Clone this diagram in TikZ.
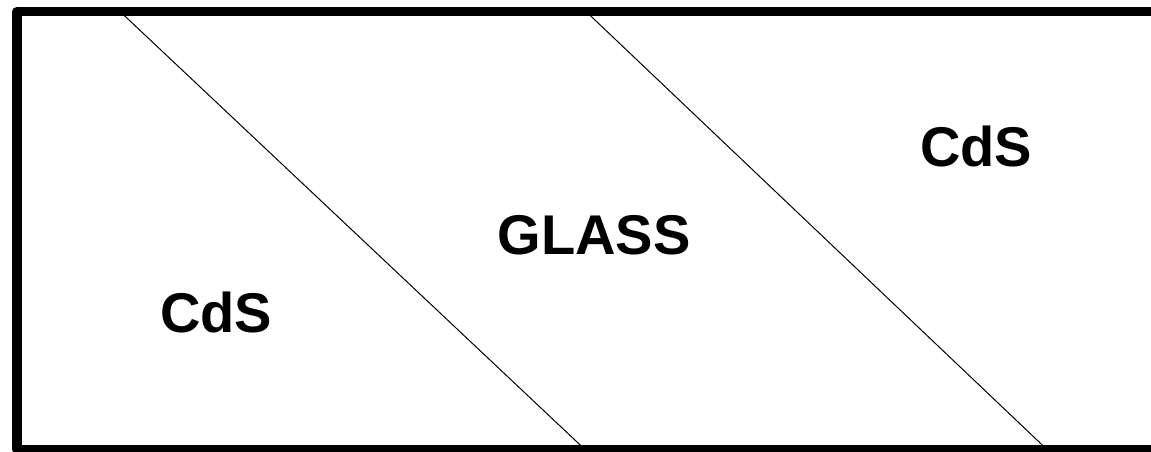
\documentclass[tikz,border=0pt]{standalone}
\usepackage{fontspec}
\setmainfont{Liberation Sans}
\tikzset{
  frame/.style={line width=9.5pt, line join=round, line cap=butt},
  divider/.style={line width=1pt},
  lbl/.style={font=\bfseries\fontsize{56}{60}\selectfont, inner sep=0pt, anchor=base}
}
\begin{document}
\begin{tikzpicture}[x=1pt,y=-1pt]
\useasboundingbox (0,0) rectangle (1151,452);
\fill[white] (0,0) rectangle (1151,452);
% divider end points
\coordinate (a1) at (120,11.5);
\coordinate (a2) at (585,449.5);
\coordinate (b1) at (586,11.5);
\coordinate (b2) at (1047,449.5);
\draw[divider] (a1) -- (a2);
\draw[divider] (b1) -- (b2);
% frame
\coordinate (tr) at (1160,11.5);
\coordinate (tl) at (17,11.5);
\coordinate (bl) at (17,449.5);
\coordinate (br) at (1160,449.5);
\draw[frame] (tr) -- (tl) -- (bl) -- (br);
% labels (placed by baseline)
\node[lbl] (cds1) at (216,332) {CdS};
\node[lbl] (glass) at (594,254) {GLASS};
\node[lbl] (cds2) at (976,166) {CdS};
\end{tikzpicture}
\end{document}
